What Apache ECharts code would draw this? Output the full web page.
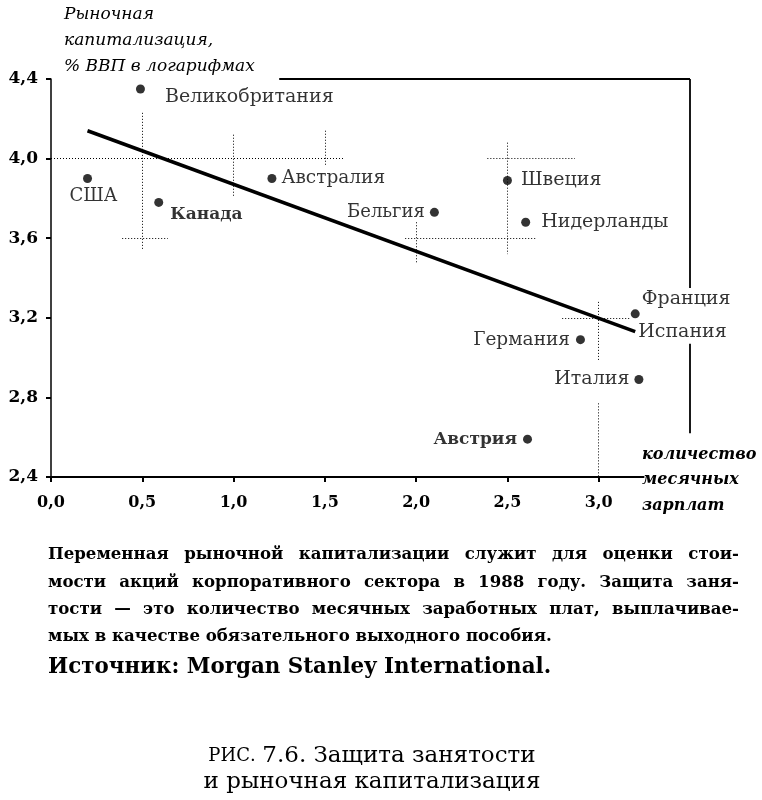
<!DOCTYPE html>
<html><head><meta charset="utf-8">
<script src="https://cdn.jsdelivr.net/npm/echarts@6/dist/echarts.min.js"></script>
<style>html,body{margin:0;padding:0;background:#fff}#c{width:762px;height:800px}</style>
</head><body><div id="c"></div>
<script>
const countries = ['США','Великобритания','Канада','Австралия','Бельгия','Швеция','Нидерланды','Франция','Испания','Германия','Италия','Австрия'];
const protection = [0.20,0.49,0.59,1.21,2.10,2.50,2.60,3.20,3.20,2.90,3.22,2.61];
const marketCap  = [3.90,4.35,3.78,3.90,3.73,3.89,3.68,3.22,3.13,3.09,2.89,2.59];
const trendX = [0.20, 3.20];
const trendY = [4.14, 3.13];
const xTicks = [0,0.5,1.0,1.5,2.0,2.5,3.0];
const yTicks = [2.4,2.8,3.2,3.6,4.0,4.4];
// fragments of dotted grid lines visible in the figure [x1,y1,x2,y2]
const gridFragments = [
  [0.5,4.23,0.5,3.54],[0,4.0,1.6,4.0],[0.39,3.6,0.64,3.6],[1.0,4.12,1.0,3.81],
  [1.5,4.14,1.5,3.96],[2.5,4.08,2.5,3.52],[2.39,4.0,2.87,4.0],[1.94,3.6,2.66,3.6],
  [2.0,3.68,2.0,3.47],[3.0,3.28,3.0,2.98],[3.0,2.77,3.0,2.4],[2.8,3.2,3.17,3.2]
];
const frameSegments = [
  [1.25,4.4,3.5,4.4],[3.5,4.4,3.5,3.35],[3.5,3.07,3.5,2.62],[0,2.4,3.25,2.4]
];
const captionLines = [
  'Переменная рыночной капитализации служит для оценки стои-',
  'мости акций корпоративного сектора в 1988 году. Защита заня-',
  'тости — это количество месячных заработных плат, выплачивае-',
  'мых в качестве обязательного выходного пособия.'
];
const sourceLine = 'Источник: Morgan Stanley International.';

const SERIF = '"DejaVu Serif","Liberation Serif",serif';
const labelStyle = {
  'США':           {position:'bottom', distance:4, offset:[6,0], fontSize:18},
  'Великобритания':{position:'right', distance:20, offset:[0,8]},
  'Канада':        {position:'right', distance:7, offset:[0,12], fontWeight:'bold', fontSize:17},
  'Австралия':     {position:'right', distance:5, fontSize:18.5},
  'Бельгия':       {position:'left', distance:5, fontSize:18},
  'Швеция':        {position:'right', distance:9},
  'Нидерланды':    {position:'right', distance:11},
  'Франция':       {position:'right', distance:2, offset:[0,-15]},
  'Испания':       {position:'right', distance:3},
  'Германия':      {position:'left', distance:6, fontSize:18.5},
  'Италия':        {position:'left', distance:5},
  'Австрия':       {position:'left', distance:6, fontWeight:'bold', fontSize:17}
};
const fmt = v => v.toFixed(1).replace('.', ',');

const points = countries.map((n,i)=>{
  const s = labelStyle[n];
  return {
    name:n, value:[protection[i], marketCap[i]],
    symbolSize: n==='Испания' ? 0 : 9,
    label:Object.assign({show:true, formatter:n, color:'#000', fontFamily:SERIF, fontSize:19}, s)
  };
});

// justified caption block (lines 1..n-1 justified, last line natural)
const capFont = 'bold 16.6px ' + SERIF;
const capLeft = 48, capRight = 739, capTop = 555, capLH = 27.2;
const ctx = document.createElement('canvas').getContext('2d');
ctx.font = capFont;
const capGraphics = [];
captionLines.forEach((line, li) => {
  const y = capTop + li * capLH;
  const words = line.split(' ');
  if (li === captionLines.length - 1) {
    capGraphics.push({type:'text', x:capLeft, y:y, style:{text:line, font:capFont, fill:'#000', textVerticalAlign:'middle'}});
    return;
  }
  const widths = words.map(w => ctx.measureText(w).width);
  const total = widths.reduce((a,b)=>a+b,0);
  const gap = (capRight - capLeft - total) / (words.length - 1);
  let x = capLeft;
  words.forEach((w, wi) => {
    capGraphics.push({type:'text', x:x, y:y, style:{text:w, font:capFont, fill:'#000', textVerticalAlign:'middle'}});
    x += widths[wi] + gap;
  });
});

const chart = echarts.init(document.getElementById('c'));
chart.setOption({
  animation:false,
  backgroundColor:'#fff',
  grid:{left:51, right:72, top:79, bottom:323},
  xAxis:{type:'value', min:0, max:3.5, interval:0.5,
    axisLine:{show:false},
    axisTick:{show:true, customValues:xTicks, length:5, lineStyle:{color:'#000', width:2}},
    axisLabel:{customValues:xTicks, formatter:fmt, margin:18, color:'#000', fontFamily:SERIF, fontWeight:'bold', fontSize:16},
    splitLine:{show:false}},
  yAxis:{type:'value', min:2.4, max:4.4, interval:0.4,
    axisLine:{show:true, lineStyle:{color:'#000', width:1.5}},
    axisTick:{show:true, length:5, lineStyle:{color:'#000', width:2}},
    axisLabel:{formatter:fmt, margin:13, color:'#000', fontFamily:SERIF, fontWeight:'bold', fontSize:17},
    splitLine:{show:false}},
  series:[
    {type:'line', data:trendX.map((x,i)=>[x,trendY[i]]), symbol:'none', silent:true,
     lineStyle:{color:'#000', width:3.5},
     markLine:{symbol:'none', silent:true, label:{show:false},
       data: gridFragments.map(f=>[{coord:[f[0],f[1]], lineStyle:{color:'#000', width:1, type:[1,2]}},{coord:[f[2],f[3]]}])
         .concat(frameSegments.map(f=>[{coord:[f[0],f[1]], lineStyle:{color:'#000', width:1.8, type:'solid'}},{coord:[f[2],f[3]]}]))
     }},
    {type:'scatter', data:points, itemStyle:{color:'#000'}, symbol:'circle', z:5}
  ],
  graphic:[
    {type:'text', left:64, top:2, style:{text:'Рыночная\nкапитализация,\n% ВВП в логарифмах', font:'italic 17px '+SERIF, lineHeight:26, fill:'#000'}},
    {type:'text', left:642, top:442, style:{text:'количество\nмесячных\nзарплат', font:'italic bold 16px '+SERIF, lineHeight:25.5, fill:'#000'}},
    {type:'text', x:48, y:667, style:{text:sourceLine, font:'bold 21.4px '+SERIF, fill:'#000', textVerticalAlign:'middle'}},
    {type:'text', x:372, y:743, style:{text:'{sc|РИС.}  {n|7.6. Защита занятости}\n{n|и рыночная капитализация}', textAlign:'center', lineHeight:26, fill:'#000',
      rich:{sc:{font:'18px '+SERIF, fill:'#000'}, n:{font:'23px '+SERIF, fill:'#000'}}}}
  ].concat(capGraphics)
});
</script></body></html>
